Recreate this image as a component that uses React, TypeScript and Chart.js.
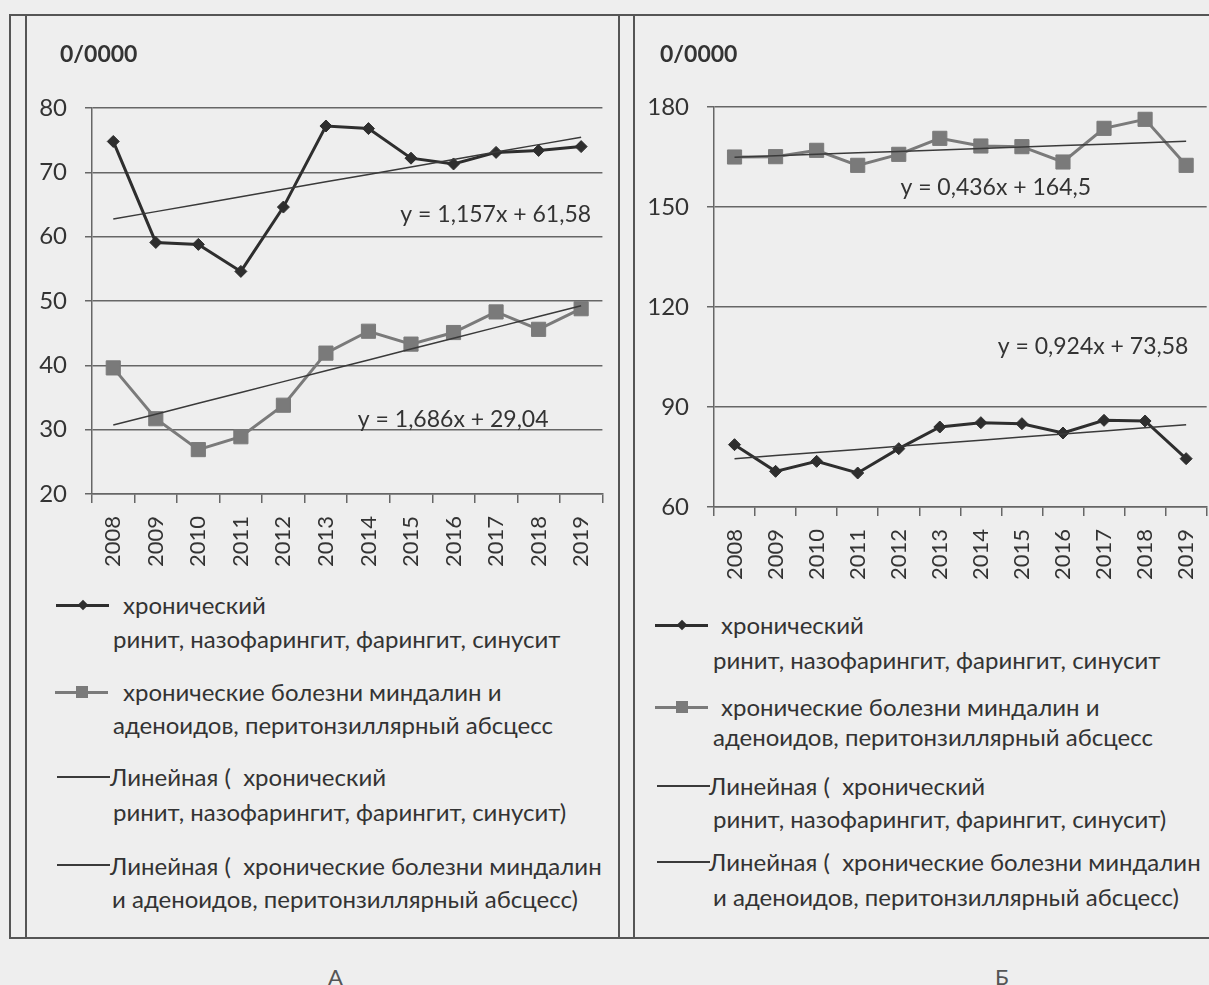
import React, { useEffect, useRef } from "react";
import { Chart, registerables } from "chart.js";
Chart.register(...registerables);

// ---------- data ----------
const years = ["2008", "2009", "2010", "2011", "2012", "2013", "2014", "2015", "2016", "2017", "2018", "2019"];

// Panel A
const rhinitisA = [74.8, 59.1, 58.8, 54.6, 64.6, 77.2, 76.8, 72.2, 71.3, 73.1, 73.4, 74.0];
const tonsilsA = [39.6, 31.7, 26.9, 28.9, 33.8, 41.9, 45.3, 43.3, 45.1, 48.3, 45.6, 48.8];
const trendRhinitisA = { slope: 1.157, intercept: 61.58 };
const trendTonsilsA = { slope: 1.686, intercept: 29.04 };
const yRangeA = { min: 20, max: 80, step: 10 };

// Panel B
const rhinitisB = [78.7, 70.7, 73.7, 70.2, 77.5, 84.0, 85.3, 85.0, 82.2, 86.0, 85.8, 74.5];
const tonsilsB = [165.0, 165.1, 167.0, 162.5, 165.8, 170.6, 168.3, 168.1, 163.5, 173.6, 176.3, 162.5];
const trendTonsilsB = { slope: 0.436, intercept: 164.5 };
const trendRhinitisB = { slope: 0.924, intercept: 73.58 };
const yRangeB = { min: 60, max: 180, step: 30 };

const unitLabel = "0/0000";
const seriesNames = [
  ["хронический", "ринит, назофарингит, фарингит, синусит"],
  ["хронические болезни миндалин и", "аденоидов, перитонзиллярный абсцесс"],
  ["Линейная (  хронический", "ринит, назофарингит, фарингит, синусит)"],
  ["Линейная (  хронические болезни миндалин", "и аденоидов, перитонзиллярный абсцесс)"],
];

// ---------- styles ----------
const BG = "#eeeeee";
const DARK = "#2e2e2e";
const GRAYSERIES = "#7a7a7a";
const TREND = "#3a3a3a";
const GRID = "#666666";
const TEXT = "#333333";
const FONT = "Lato, 'Open Sans', sans-serif";

const trendValues = (t: { slope: number; intercept: number }) =>
  years.map((_, i) => +(t.slope * (i + 1) + t.intercept).toFixed(3));

const eqPlugin = {
  id: "eqLabels",
  afterDatasetsDraw(chart: any, _args: any, opts: any) {
    const { ctx, scales } = chart;
    const x = scales.x;
    const y = scales.y;
    ctx.save();
    ctx.font = "23px " + FONT;
    ctx.fillStyle = TEXT;
    ctx.textBaseline = "middle";
    ctx.textAlign = "left";
    for (const l of opts.items || []) {
      ctx.fillText(l.text, x.getPixelForValue(l.xIdx), y.getPixelForValue(l.yVal));
    }
    ctx.restore();
  },
};

function makeConfig(p: {
  diamonds: number[];
  squares: number[];
  trendD: number[];
  trendS: number[];
  yr: { min: number; max: number; step: number };
  yAxisWidth: number;
  xAxisHeight: number;
  padTop: number;
  eq: { text: string; xIdx: number; yVal: number }[];
}): any {
  return {
    type: "line",
    data: {
      labels: years,
      datasets: [
        {
          label: seriesNames[0].join(" "),
          data: p.diamonds,
          borderColor: DARK,
          backgroundColor: DARK,
          borderWidth: 3,
          pointStyle: "rectRot",
          pointRadius: 6,
          pointBorderWidth: 1,
          tension: 0,
          order: 1,
        },
        {
          label: seriesNames[1].join(" "),
          data: p.squares,
          borderColor: GRAYSERIES,
          backgroundColor: GRAYSERIES,
          borderWidth: 3,
          pointStyle: "rect",
          pointRadius: 10,
          pointBorderWidth: 1,
          tension: 0,
          order: 1,
        },
        {
          label: seriesNames[2].join(" "),
          data: p.trendD,
          borderColor: TREND,
          borderWidth: 1.5,
          pointRadius: 0,
          order: 0,
        },
        {
          label: seriesNames[3].join(" "),
          data: p.trendS,
          borderColor: TREND,
          borderWidth: 1.5,
          pointRadius: 0,
          order: 0,
        },
      ],
    },
    options: {
      animation: false,
      responsive: false,
      layout: { padding: { top: p.padTop, left: 0, right: 0, bottom: 0 } },
      plugins: {
        legend: { display: false },
        tooltip: { enabled: false },
        eqLabels: { items: p.eq },
      },
      scales: {
        x: {
          type: "category",
          offset: true,
          grid: {
            offset: true,
            drawOnChartArea: false,
            drawTicks: true,
            tickLength: 9,
            color: GRID,
            lineWidth: 1.5,
          },
          border: { color: GRID, width: 1.5 },
          ticks: {
            autoSkip: false,
            minRotation: 90,
            maxRotation: 90,
            padding: 13,
            color: TEXT,
            font: { family: FONT, size: 22 },
          },
          afterFit: (s: any) => {
            s.height = p.xAxisHeight;
          },
        },
        y: {
          min: p.yr.min,
          max: p.yr.max,
          ticks: {
            stepSize: p.yr.step,
            padding: 18,
            color: TEXT,
            font: { family: FONT, size: 24 },
          },
          grid: { color: GRID, lineWidth: 1.5, tickLength: 7 },
          border: { color: GRID, width: 1.5 },
          afterFit: (s: any) => {
            s.width = p.yAxisWidth;
          },
        },
      },
    },
    plugins: [eqPlugin],
  };
}

function Marker({ x, y, kind }: { x: number; y: number; kind: number }) {
  const w = 53;
  const color = kind === 1 ? GRAYSERIES : DARK;
  const lw = kind <= 1 ? 3 : 1.5;
  return (
    <>
      <div
        style={{
          position: "absolute",
          left: x,
          top: y - lw / 2,
          width: w,
          height: lw,
          background: kind <= 1 ? color : TREND,
        }}
      />
      {kind === 0 && (
        <div
          style={{
            position: "absolute",
            left: x + w / 2 - 5,
            top: y - 5,
            width: 10,
            height: 10,
            background: DARK,
            transform: "rotate(45deg) scale(0.75)",
          }}
        />
      )}
      {kind === 1 && (
        <div
          style={{
            position: "absolute",
            left: x + w / 2 - 6,
            top: y - 6,
            width: 12,
            height: 12,
            background: GRAYSERIES,
          }}
        />
      )}
    </>
  );
}

function Legend({ items }: { items: { mx: number; my: number; l1x: number; l1y: number; l2x: number; l2y: number }[] }) {
  return (
    <>
      {items.map((it, i) => (
        <React.Fragment key={i}>
          <Marker x={it.mx} y={it.my} kind={i} />
          <div style={{ ...lineStyle, left: it.l1x, top: it.l1y - 15 }}>{seriesNames[i][0]}</div>
          <div style={{ ...lineStyle, left: it.l2x, top: it.l2y - 15 }}>{seriesNames[i][1]}</div>
        </React.Fragment>
      ))}
    </>
  );
}

const lineStyle: React.CSSProperties = {
  position: "absolute",
  fontFamily: FONT,
  fontSize: 24,
  lineHeight: "30px",
  height: 30,
  color: TEXT,
  whiteSpace: "pre",
};

const legendA = [
  { mx: 56, my: 605, l1x: 123, l1y: 605, l2x: 113, l2y: 639 },
  { mx: 55, my: 692, l1x: 123, l1y: 692, l2x: 113, l2y: 725 },
  { mx: 57, my: 777, l1x: 110, l1y: 777, l2x: 113, l2y: 812 },
  { mx: 57, my: 865, l1x: 110, l1y: 866, l2x: 112, l2y: 899 },
];
const legendB = [
  { mx: 655, my: 625, l1x: 721, l1y: 625, l2x: 713, l2y: 660 },
  { mx: 655, my: 707, l1x: 721, l1y: 707, l2x: 713, l2y: 737 },
  { mx: 657, my: 786, l1x: 709, l1y: 786, l2x: 713, l2y: 819 },
  { mx: 657, my: 862, l1x: 709, l1y: 862, l2x: 713, l2y: 897 },
];

const line = (l: number, t: number, w: number, h: number): React.CSSProperties => ({
  position: "absolute",
  left: l,
  top: t,
  width: w,
  height: h,
  background: "#555",
  zIndex: 2,
});

export default function App() {
  const refA = useRef<HTMLCanvasElement>(null);
  const refB = useRef<HTMLCanvasElement>(null);

  useEffect(() => {
    let a: Chart | null = null;
    let b: Chart | null = null;
    let cancelled = false;
    const build = () => {
      if (cancelled) return;
      a = new Chart(
        refA.current!,
        makeConfig({
          diamonds: rhinitisA,
          squares: tonsilsA,
          trendD: trendValues(trendRhinitisA),
          trendS: trendValues(trendTonsilsA),
          yr: yRangeA,
          yAxisWidth: 92,
          xAxisHeight: 570 - 494,
          padTop: 108,
          eq: [
            { text: "y = 1,157x + 61,58", xIdx: 6.75, yVal: 63.4 },
            { text: "y = 1,686x + 29,04", xIdx: 5.75, yVal: 31.6 },
          ],
        })
      );
      b = new Chart(
        refB.current!,
        makeConfig({
          diamonds: rhinitisB,
          squares: tonsilsB,
          trendD: trendValues(trendRhinitisB),
          trendS: trendValues(trendTonsilsB),
          yr: yRangeB,
          yAxisWidth: 74,
          xAxisHeight: 585 - 507,
          padTop: 107,
          eq: [
            { text: "y = 0,436x + 164,5", xIdx: 4.04, yVal: 155.7 },
            { text: "y = 0,924x + 73,58", xIdx: 6.41, yVal: 108 },
          ],
        })
      );
    };
    const fontsReady = (document as any).fonts
      ? Promise.all([
          (document as any).fonts.load("23px Lato"),
          (document as any).fonts.load("bold 23px Lato"),
        ]).catch(() => null)
      : Promise.resolve();
    fontsReady.then(build);
    return () => {
      cancelled = true;
      a?.destroy();
      b?.destroy();
    };
  }, []);

  return (
    <div
      style={{
        position: "fixed",
        left: 0,
        top: 0,
        width: 1209,
        height: 985,
        overflow: "hidden",
        background: BG,
        fontFamily: FONT,
      }}
    >
      {/* frame */}
      <div style={line(10, 14, 1199, 2)} />
      <div style={line(10, 937, 1199, 2)} />
      <div style={line(9, 14, 2, 925)} />
      <div style={line(25, 14, 2, 925)} />
      <div style={line(618, 14, 2, 925)} />
      <div style={line(633, 14, 2, 925)} />

      <canvas ref={refA} width={621} height={570} style={{ position: "absolute", left: 0, top: 0, display: "block" }} />
      <canvas ref={refB} width={586} height={585} style={{ position: "absolute", left: 640, top: 0, display: "block" }} />

      <div style={{ position: "absolute", left: 60, top: 38, fontSize: 23, fontWeight: 700, color: TEXT, lineHeight: "30px" }}>
        {unitLabel}
      </div>
      <div style={{ position: "absolute", left: 660, top: 38, fontSize: 23, fontWeight: 700, color: TEXT, lineHeight: "30px" }}>
        {unitLabel}
      </div>

      <Legend items={legendA} />
      <Legend items={legendB} />

      <div style={{ position: "absolute", left: 328, top: 962, fontSize: 22, color: "#555", lineHeight: "30px" }}>А</div>
      <div style={{ position: "absolute", left: 995, top: 962, fontSize: 22, color: "#555", lineHeight: "30px" }}>Б</div>
    </div>
  );
}
